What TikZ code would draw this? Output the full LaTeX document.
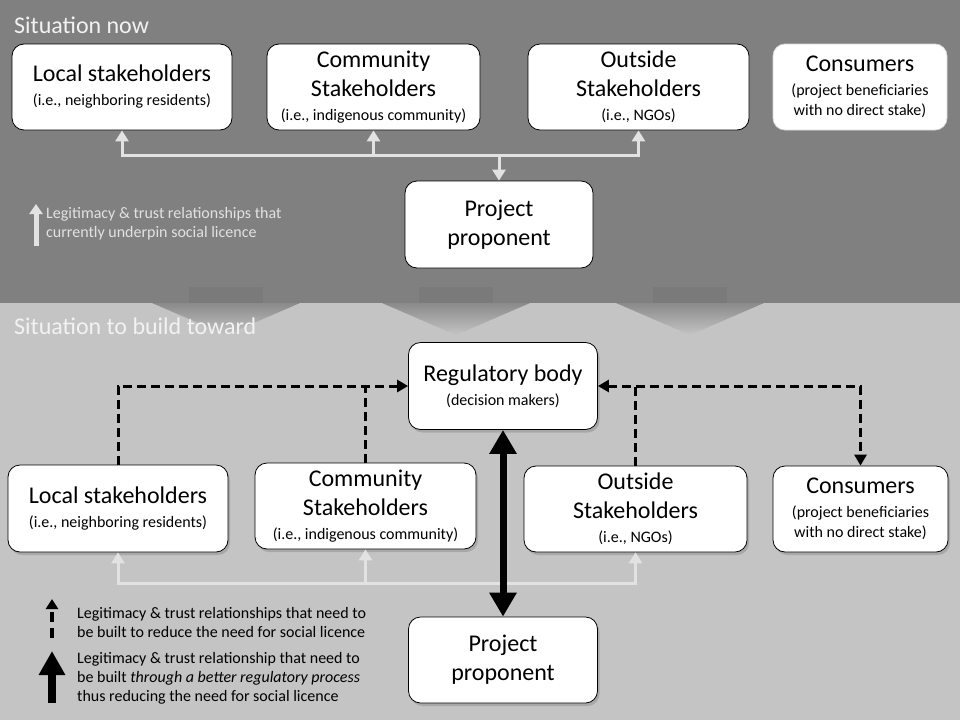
\documentclass[tikz,border=0pt]{standalone}
\usepackage{fontspec}
\setmainfont{Carlito}
\usetikzlibrary{arrows.meta,shadows}

\definecolor{topbg}{HTML}{808080}
\definecolor{botbg}{HTML}{C4C4C4}
\definecolor{linkgray}{HTML}{E2E2E2}
\definecolor{titletxt}{HTML}{F2F2F2}
\definecolor{flowtop}{HTML}{7A7A7A}
\definecolor{flowhead}{HTML}{8A8A8A}

\newcommand{\boxsub}[1]{\par\vspace{4pt}{\fontsize{16}{20}\selectfont #1\par}}

\tikzset{
	stakebox/.style={draw=black, fill=white, line width=0.8pt, rounded corners=12pt,
		inner sep=0pt, align=flush center, font=\fontsize{24}{29}\selectfont,
		drop shadow={shadow xshift=2pt, shadow yshift=-3pt, opacity=0.4}},
	trustlink/.style={draw=linkgray, line width=3pt, -{Triangle[length=11pt,width=13pt]}},
	buildlink/.style={draw=black, line width=3pt, dash pattern=on 9pt off 5pt},
	regulink/.style={draw=black, line width=7pt, {Triangle[length=24pt,width=26pt]}-{Triangle[length=24pt,width=26pt]}},
	sectiontitle/.style={anchor=west, inner sep=0pt, text=titletxt, font=\fontsize{24}{28}\selectfont},
	keytext/.style={anchor=west, inner sep=0pt, align=left, font=\fontsize{16}{19}\selectfont}
}

\begin{document}
\begin{tikzpicture}[x=1pt, y=-1pt]
	% backgrounds
	\fill[topbg] (0,0) rectangle (960,303);
	\fill[botbg] (0,303) rectangle (960,720);
	\useasboundingbox (0,0) rectangle (960,720);
	% block arrows between the two situations
	\foreach \cx in {226,456,690} {
		\fill[flowtop] (\cx-37,287) rectangle (\cx+37,303);
		\shade[top color=flowhead, bottom color=botbg] (\cx-74,303) -- (\cx+74,303) -- (\cx,335) -- cycle;
	}

	% situation now
	\node[sectiontitle] (titleNow) at (14,25) {Situation now};
	\node[stakebox, text width=220pt, minimum height=86pt] (locT) at (122,87) {Local stakeholders\boxsub{(i.e., neighboring residents)}};
	\node[stakebox, text width=213pt, minimum height=86pt] (comT) at (373.5,87) {Community\\Stakeholders\boxsub{(i.e., indigenous community)}};
	\node[stakebox, text width=221pt, minimum height=86pt] (outT) at (638.5,87) {Outside\\Stakeholders\boxsub{(i.e., NGOs)}};
	\node[stakebox, draw=white!85!black, text width=174pt, minimum height=86pt] (conT) at (860,87) {Consumers\boxsub{(project beneficiaries\\with no direct stake)}};
	\node[stakebox, text width=188pt, minimum height=87pt] (ppT) at (499,224.5) {Project\\proponent};

	\coordinate (hubT) at (499,155);
	\draw[trustlink] (hubT) -| (locT.south);
	\draw[trustlink] (hubT) -| (comT.south);
	\draw[trustlink] (hubT) -| (outT.south);
	\draw[trustlink] (hubT) -- (ppT.north);

	\coordinate (keyNowA) at (36,246);
	\coordinate (keyNowB) at (36,204);
	\draw[draw=linkgray, line width=5pt, -{Triangle[length=10pt,width=13pt]}] (keyNowA) -- (keyNowB);
	\node[keytext, text=linkgray] (legNow) at (46,224) {Legitimacy \& trust relationships that\\currently underpin social licence};

	% situation to build toward
	\node[sectiontitle] (titleBuild) at (14,326) {Situation to build toward};
	\node[stakebox, text width=189pt, minimum height=87pt] (reg) at (503,386) {Regulatory body\boxsub{(decision makers)}};
	\node[stakebox, text width=220pt, minimum height=87pt] (locB) at (118,508.5) {Local stakeholders\boxsub{(i.e., neighboring residents)}};
	\node[stakebox, text width=221pt, minimum height=86pt] (comB) at (365.5,506) {Community\\Stakeholders\boxsub{(i.e., indigenous community)}};
	\node[stakebox, text width=223pt, minimum height=86pt] (outB) at (635.5,509) {Outside\\Stakeholders\boxsub{(i.e., NGOs)}};
	\node[stakebox, text width=175pt, minimum height=86pt] (conB) at (860.5,509) {Consumers\boxsub{(project beneficiaries\\with no direct stake)}};
	\node[stakebox, text width=189pt, minimum height=86pt] (ppB) at (503,660) {Project\\proponent};

	\draw[buildlink, -{Triangle[length=11pt,width=12pt]}] (locB.north) |- (reg.west);
	\draw[buildlink] (comB.north) -- (comB.north |- reg.west);
	\draw[buildlink, {Triangle[length=11pt,width=12pt]}-{Triangle[length=11pt,width=12pt]}] (reg.east) -| (conB.north);
	\draw[buildlink] (outB.north) -- (outB.north |- reg.east);

	\coordinate (hubB) at (365.5,583);
	\draw[trustlink] (hubB) -| (locB.south);
	\draw[trustlink] (hubB) -- (comB.south);
	\draw[trustlink] (hubB) -| (outB.south);

	\draw[regulink] (reg.south) -- (ppB.north);

	% key
	\coordinate (keyBuildA) at (52,638);
	\coordinate (keyBuildB) at (52,599);
	\draw[draw=black, line width=4pt, dash pattern=on 10pt off 6pt, -{Triangle[length=10pt,width=12pt]}] (keyBuildA) -- (keyBuildB);
	\node[keytext] (legBuild) at (77,622.5) {Legitimacy \& trust relationships that need to\\be built to reduce the need for social licence};
	\coordinate (keyRegA) at (52,703);
	\coordinate (keyRegB) at (52,651);
	\draw[draw=black, line width=8pt, -{Triangle[length=24pt,width=25pt]}] (keyRegA) -- (keyRegB);
	\node[keytext] (legReg) at (77,678) {Legitimacy \& trust relationship that need to\\be built \textit{through a better regulatory process}\\thus reducing the need for social licence};
\end{tikzpicture}
\end{document}
